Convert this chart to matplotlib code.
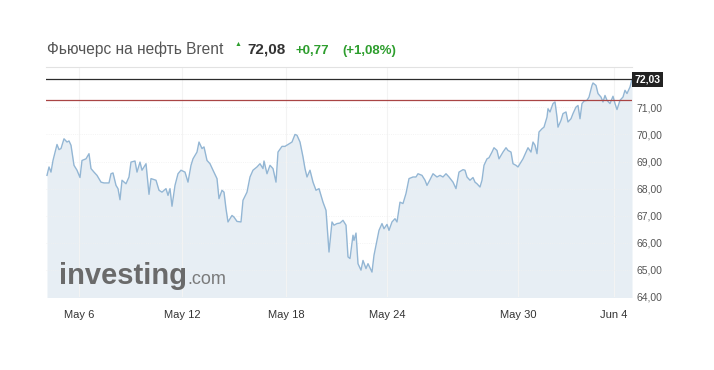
import matplotlib
matplotlib.use("Agg")
import matplotlib.pyplot as plt
import matplotlib.transforms as mtransforms

plt.rcParams['font.family'] = ['Liberation Sans', 'DejaVu Sans']

# trading-hour index and Brent futures price
hours = [1, 3, 5, 7, 11, 13, 15, 18, 21, 23, 25, 28, 31, 34, 36, 40, 43, 45, 48, 51,
         55, 58, 63, 65, 67, 70, 72, 74, 76, 80, 83, 85, 89, 91, 94, 96, 100, 103, 105, 110,
         113, 116, 120, 122, 124, 126, 129, 132, 135, 139, 142, 145, 147, 151, 153, 156, 158, 161, 164, 167,
         171, 173, 176, 178, 180, 182, 186, 188, 191, 195, 197, 201, 204, 207, 211, 214, 217, 218, 221, 224,
         227, 230, 232, 236, 239, 242, 246, 249, 251, 254, 257, 259, 261, 264, 267, 270, 273, 277, 280, 282,
         283, 286, 288, 291, 294, 297, 300, 302, 304, 307, 308, 310, 312, 315, 317, 320, 322, 326, 328, 331,
         333, 336, 338, 341, 343, 346, 349, 351, 354, 357, 360, 363, 367, 370, 372, 376, 379, 381, 384, 387,
         391, 394, 397, 400, 403, 407, 410, 413, 417, 419, 421, 424, 427, 429, 431, 434, 436, 438, 441, 443,
         446, 448, 451, 453, 457, 460, 462, 465, 467, 470, 472, 475, 477, 480, 482, 485, 487, 489, 491, 493,
         496, 498, 501, 502, 504, 507, 509, 511, 512, 515, 517, 520, 522, 525, 527, 530, 532, 534, 536, 538,
         541, 543, 546, 547, 550, 552, 555, 557, 559, 561, 564, 567, 569, 571, 574, 577, 579, 581, 584, 586]
price = [68.49, 68.80, 68.61, 69.04, 69.63, 69.44, 69.48, 69.84, 69.72, 69.76, 69.60, 68.86, 68.68, 68.41, 69.04, 69.10, 69.29, 68.74, 68.61, 68.49,
         68.24, 68.21, 68.21, 68.55, 68.58, 68.12, 68.00, 67.59, 68.31, 68.18, 68.43, 68.98, 69.02, 68.61, 68.98, 68.68, 68.92, 67.79, 68.37, 68.31,
         67.94, 67.87, 68.00, 67.75, 68.00, 67.35, 68.12, 68.55, 68.68, 68.61, 68.24, 68.86, 69.10, 69.35, 69.72, 69.48, 69.54, 69.04, 68.92, 68.68,
         68.37, 67.63, 67.94, 67.87, 67.26, 66.77, 67.01, 66.95, 66.79, 66.77, 67.57, 67.87, 68.43, 68.68, 68.80, 68.92, 68.74, 69.02, 68.55, 68.86,
         68.74, 68.24, 69.35, 69.56, 69.56, 69.63, 69.72, 70.00, 69.97, 69.72, 69.17, 68.74, 68.43, 68.68, 68.24, 67.94, 68.00, 67.50, 67.20, 66.21,
         65.66, 66.77, 66.65, 66.71, 66.73, 66.83, 66.65, 65.48, 65.42, 66.28, 66.09, 66.36, 65.23, 64.99, 65.35, 65.05, 65.23, 64.92, 65.54, 66.09,
         66.46, 66.71, 66.52, 66.68, 66.46, 66.77, 66.89, 66.77, 67.50, 67.45, 67.82, 68.37, 68.43, 68.43, 68.55, 68.49, 68.31, 68.12, 68.33, 68.55,
         68.43, 68.49, 68.43, 68.55, 68.43, 68.24, 68.00, 68.61, 68.70, 68.68, 68.43, 68.31, 68.41, 68.24, 68.18, 68.06, 68.31, 68.86, 69.10, 69.14,
         69.35, 69.51, 69.41, 69.10, 69.35, 69.51, 69.41, 69.35, 68.92, 68.86, 68.80, 68.98, 69.10, 69.35, 69.51, 69.35, 69.72, 69.60, 69.29, 70.09,
         70.21, 70.27, 70.64, 70.95, 70.83, 71.14, 71.20, 70.64, 70.27, 70.52, 70.77, 70.83, 70.46, 70.58, 70.77, 71.01, 71.07, 70.58, 71.14, 71.23,
         71.26, 71.38, 71.81, 71.90, 71.81, 71.51, 71.38, 71.20, 71.44, 71.26, 71.14, 71.41, 71.14, 70.92, 71.26, 71.38, 71.63, 71.51, 71.75, 72.03]

tick_hours = [33, 136, 240, 341, 472, 568]
tick_labels = ['May 6', 'May 12', 'May 18', 'May 24', 'May 30', 'Jun 4']
y_ticks = [64, 65, 66, 67, 68, 69, 70, 71]
last_price = 72.03
prev_close = 71.26

fig = plt.figure(figsize=(7.14, 3.70), dpi=100)
ax = fig.add_axes([46 / 714, 73 / 370, 586 / 714, 230 / 370])

ax.fill_between(hours, price, 63, color='#e7eef4', lw=0, zorder=1)
ax.plot(hours, price, color='#93b6d4', lw=1.0, zorder=3)
ax.axhline(last_price, color='#2b2b2b', lw=0.9, zorder=4)
ax.axhline(prev_close, color='#a94444', lw=0.9, zorder=4)

ax.set_xlim(0, 586)
ax.set_ylim(64, 72.49)
ax.set_xticks(tick_hours)
ax.set_xticklabels(tick_labels)
ax.set_yticks(y_ticks)
ax.set_yticklabels([('%.2f' % v).replace('.', ',') for v in y_ticks])
ax.yaxis.tick_right()
ax.tick_params(axis='y', length=0, pad=3, labelsize=7.5, labelcolor='#555555')
ax.tick_params(axis='x', length=0, pad=9, labelsize=8, labelcolor='#333333')
ax.grid(axis='x', color='#f3f3f3', lw=0.8, zorder=0)
ax.grid(axis='y', color='#f0f0f0', lw=0.6, ls=':', zorder=2)

for side in ['left', 'right', 'bottom']:
    ax.spines[side].set_visible(False)
ax.spines['top'].set_color('#e2e2e2')
ax.spines['top'].set_linewidth(0.8)

trans = mtransforms.blended_transform_factory(ax.transAxes, ax.transData)
ax.text(1.004, last_price, ('%.2f' % last_price).replace('.', ','), transform=trans,
        ha='left', va='center', fontsize=7.5, fontweight='bold', color='white',
        bbox=dict(boxstyle='square,pad=0.25', fc='#222222', ec='none'))

# header
fig.text(47 / 714, 1 - 54 / 370, 'Фьючерс на нефть Brent', fontsize=11.2, color='#555555', va='baseline')
fig.text(235 / 714, 1 - 46 / 370, '▲', fontsize=5, color='#2e9e2e', va='baseline')
fig.text(247 / 714, 1 - 54 / 370, '72,08', fontsize=11, fontweight='bold', color='#333333', va='baseline')
fig.text(296 / 714, 1 - 54 / 370, '+0,77', fontsize=9.5, fontweight='bold', color='#2e9e2e', va='baseline')
fig.text(342 / 714, 1 - 54 / 370, '(+1,08%)', fontsize=9.5, fontweight='bold', color='#2e9e2e', va='baseline')

# watermark logo
logo = fig.text(59 / 714, 1 - 284 / 370, 'investing', fontsize=21, fontweight='bold',
                color='#6a6a6a', va='baseline', zorder=5)
fig.canvas.draw()
bb = logo.get_window_extent().transformed(fig.transFigure.inverted())
fig.text(bb.x1, 1 - 284 / 370, '.com', fontsize=13, color='#7a7a7a', va='baseline', zorder=5)

fig.savefig('out.png', dpi=100)
